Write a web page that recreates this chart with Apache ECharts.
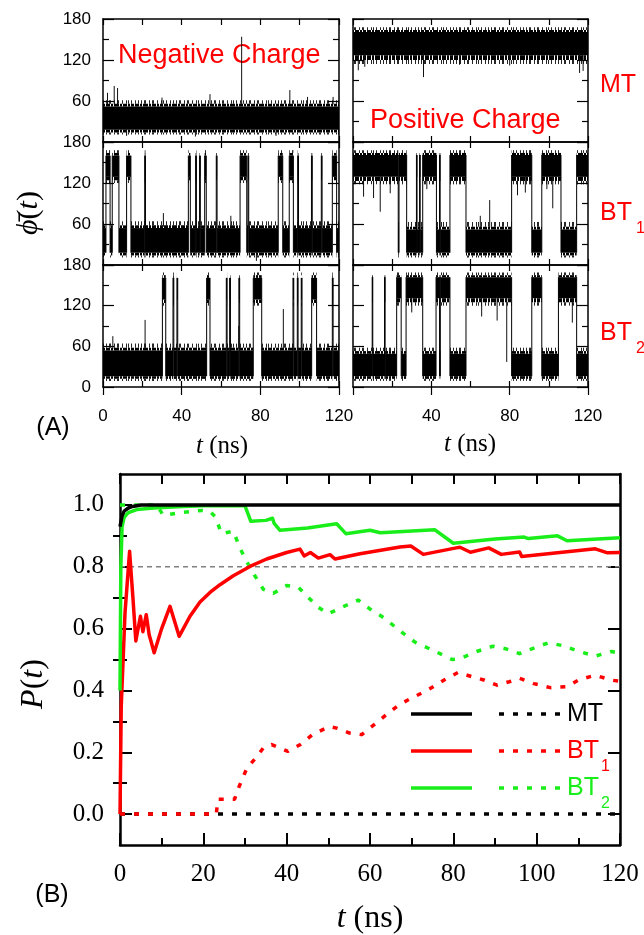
<!DOCTYPE html>
<html><head><meta charset="utf-8">
<script src="https://cdn.jsdelivr.net/npm/echarts@6/dist/echarts.min.js"></script>
<style>html,body{margin:0;padding:0;background:#fff}#c{width:644px;height:935px}</style>
</head><body><div id="c"></div>
<script>
// ================= DATA =================
// Panel (A): phi-bar(t) traces as state segments [tStart, tEnd, state] (0 = low band, 1 = high band), t in ns
const negMT_segments = [[0,120,0]];
const posMT_segments = [[0,120,1]];
const negBT1_segments = [[0,1.5,0],[1.5,3.6,1],[3.6,4.7,0],[4.7,8.1,1],[8.1,12.0,0],[12.0,14.2,1],[14.2,21.2,0],[21.2,21.6,1],[21.6,43.4,0],[43.4,44.4,1],[44.4,47.1,0],[47.1,47.5,1],[47.5,49.1,0],[49.1,49.5,1],[49.5,51.7,0],[51.7,52.5,1],[52.5,57.6,0],[57.6,58.0,1],[58.0,69.7,0],[69.7,73.1,1],[73.1,73.7,0],[73.7,74.1,1],[74.1,89.1,0],[89.1,91.4,1],[91.4,94.7,0],[94.7,96.8,1],[96.8,99.0,0],[99.0,99.4,1],[99.4,106.0,0],[106.0,106.4,1],[106.4,111.0,0],[111.0,111.4,1],[111.4,116.6,0],[116.6,118.8,1],[118.8,120,0]];
const posBT1_segments = [[0,23.1,1],[23.1,23.5,0],[23.5,27.4,1],[27.4,32.4,0],[32.4,32.7,1],[32.7,34.0,0],[34.0,34.3,1],[34.3,35.6,0],[35.6,42.6,1],[42.6,44.2,0],[44.2,44.5,1],[44.5,49.5,0],[49.5,57.7,1],[57.7,81.0,0],[81.0,91.3,1],[91.3,96.4,0],[96.4,106.2,1],[106.2,114.2,0],[114.2,120,1]];
const negBT2_segments = [[0,30.2,0],[30.2,31.9,1],[31.9,35.6,0],[35.6,36.0,1],[36.0,37.6,0],[37.6,38.0,1],[38.0,52.7,0],[52.7,54.4,1],[54.4,62.7,0],[62.7,63.1,1],[63.1,64.4,0],[64.4,64.8,1],[64.8,69.1,0],[69.1,69.5,1],[69.5,76.4,0],[76.4,80.7,1],[80.7,96.6,0],[96.6,97.0,1],[97.0,98.8,0],[98.8,99.2,1],[99.2,100.8,0],[100.8,101.2,1],[101.2,106.1,0],[106.1,108.6,1],[108.6,116.6,0],[116.6,117.0,1],[117.0,120,0]];
const posBT2_segments = [[0,9.8,0],[9.8,10.1,1],[10.1,16.1,0],[16.1,16.4,1],[16.4,22.3,0],[22.3,24.6,1],[24.6,27.1,0],[27.1,35.6,1],[35.6,42.4,0],[42.4,44.2,1],[44.2,44.6,0],[44.6,49.5,1],[49.5,57.7,0],[57.7,81.0,1],[81.0,91.3,0],[91.3,96.4,1],[96.4,104.9,0],[104.9,114.2,1],[114.2,120,0]];

// band envelopes [outerLow, fringeLow, coreLow, coreHigh, fringeHigh, outerHigh] in degrees
const negMT_low  = [11,14,18,52,56,61], negMT_high  = [116,121,127,161,164,168];
const posMT_low  = [11,14,18,52,56,61], posMT_high  = [114,120,127,161,164,168];
const negBT1_low = [11,14,18,54,58,64], negBT1_high = [120,124,129,160,164,168];
const posBT1_low = [11,14,18,52,56,63], posBT1_high = [118,123,129,161,164,168];
const negBT2_low = [9,12,16,54,58,64],  negBT2_high = [120,124,129,161,165,169];
const posBT2_low = [9,12,16,49,53,58],  posBT2_high = [120,125,131,162,165,169];

// isolated excursions [t, from, to]
const negMT_spikes = [[2.3,55,72],[5.7,55,82],[7.4,55,79],[30,55,65],[54.4,55,70],[70.5,55,154],[95,55,76],[104,55,66],[117,55,66],[12,20,9],[47,20,8],[88,20,9]];
const posMT_spikes = [[2.7,130,105],[6,130,110],[36,130,95],[54.4,130,113],[80,130,112],[115.7,130,101],[117.5,130,104]];
const negBT1_spikes = [[30.7,56,76],[78,20,6],[65,56,72]];
const posBT1_spikes = [[5.4,130,100],[10.5,130,98],[13.9,130,78],[19,130,105],[37.7,130,111],[84,130,102],[88,130,106],[99,130,111],[102,130,83],[69.8,55,95],[65,55,72]];
const negBT2_spikes = [[21.4,56,99],[91.7,56,115],[69,56,90],[5,56,75]];
const posBT2_spikes = [[65.7,132,104],[73.6,132,98],[78.5,132,37],[112,132,95],[30,132,110]];

// Panel (B): P(t) curves [t (ns), P]
const MT_solid  = [[0,0.93],[0.5,0.965],[1,0.98],[2,0.99],[3,0.995],[5,1.0],[120,1.0]];
const MT_dotted = [[0,0],[120,0]];
const BT1_solid = [[0,0],[0.3,0.35],[1.2,0.65],[2.3,0.85],[3.1,0.7],[3.8,0.56],[4.9,0.64],[5.5,0.59],[6.3,0.645],[7.0,0.58],[8.2,0.522],[10,0.6],[12,0.672],[14.2,0.575],[16.8,0.64],[19.2,0.686],[21.6,0.717],[24,0.742],[27.2,0.771],[31.2,0.801],[35.2,0.825],[40,0.846],[43.2,0.857],[44.2,0.835],[45.7,0.846],[47.6,0.828],[50.4,0.839],[51.6,0.825],[57.6,0.842],[58,0.837],[67.2,0.864],[69.8,0.867],[72.8,0.84],[80.7,0.861],[81.6,0.863],[84.1,0.847],[88.5,0.861],[91.5,0.84],[95.9,0.848],[96.4,0.833],[103.3,0.843],[114.1,0.858],[117,0.845],[120,0.846]];
const BT1_dotted = [[0,0],[23.1,0],[23.5,0.048],[27.5,0.048],[28.5,0.086],[30.5,0.15],[32.5,0.18],[34.4,0.214],[36.4,0.225],[40.3,0.203],[43.3,0.225],[46.2,0.257],[50.2,0.283],[52,0.278],[55.1,0.262],[58,0.257],[61,0.289],[63.9,0.321],[66.9,0.353],[69.8,0.374],[73.8,0.401],[77.7,0.433],[81.1,0.458],[84.6,0.444],[87.5,0.433],[90.5,0.417],[93.4,0.428],[95.9,0.439],[99.3,0.422],[103.3,0.409],[107.2,0.412],[110.2,0.435],[114.1,0.449],[118,0.433],[120,0.43]];
const BT2_solid = [[0,0.4],[0.2,0.8],[0.5,0.93],[1,0.96],[2,0.975],[4,0.985],[8,0.99],[15,0.995],[20,0.997],[30,0.997],[31.4,0.947],[35,0.95],[36.6,0.957],[37,0.94],[38.4,0.918],[45,0.925],[52,0.939],[54.2,0.907],[60,0.918],[62.5,0.91],[75.5,0.92],[80,0.876],[90,0.89],[97,0.896],[98,0.891],[105,0.9],[107.3,0.884],[120,0.894]];
const BT2_dotted = [[0,1.0],[8.8,1.0],[10.4,0.966],[14.4,0.975],[19.6,0.982],[21.5,0.98],[22.8,0.963],[24.4,0.907],[27.2,0.915],[28.8,0.86],[30.4,0.817],[32.4,0.77],[34.4,0.727],[36.8,0.714],[40,0.739],[42.8,0.734],[44.8,0.706],[47.6,0.669],[50,0.648],[53.6,0.671],[57.2,0.692],[60.4,0.659],[63.6,0.633],[66.4,0.601],[70.8,0.556],[75.7,0.526],[79.7,0.5],[81.6,0.503],[85.6,0.526],[89.5,0.543],[92.5,0.535],[95.9,0.519],[99.3,0.537],[102.8,0.554],[106.2,0.545],[110.2,0.526],[114.1,0.511],[118,0.526],[120,0.52]];
const refLevel = 0.8;

const yMajorB = [0,0.2,0.4,0.6,0.8,1.0];
const yMinorB = [0.1,0.3,0.5,0.7,0.9];

// ================= CHART =================
const SANS = '"Liberation Sans", Arial, sans-serif';
const SERIF = '"Liberation Serif", "Times New Roman", serif';
const RED = '#ff0000', GREEN = '#1aee1a', BLACK = '#000';

// hatch textures for the noisy fringes of the traces (style only)
function hatch(cols, w, alpha) {
  const c = document.createElement('canvas'); c.width = w; c.height = 4;
  const ctx = c.getContext('2d'); ctx.fillStyle = 'rgba(0,0,0,' + alpha + ')';
  cols.forEach(x => ctx.fillRect(x, 0, 1, 4));
  return {image: c, repeat: 'repeat'};
}
const hatchDense = hatch([0,1,2,4,5,7,8,9,10,12,13,15,16,17,19,20,21,22,24,25,27,28], 29, 1);
const hatchSparse = hatch([1,4,5,9,12,13,17,21,23,26,30,33], 35, 0.85);

const grids = [], xAxes = [], yAxes = [], series = [];
const colLeft = [103, 353], colW = [236, 235];
const rowTop = [19, 142, 265], rowH = [123, 123, 122];

const panels = [
  [negMT_segments, negMT_low, negMT_high, negMT_spikes],
  [posMT_segments, posMT_low, posMT_high, posMT_spikes],
  [negBT1_segments, negBT1_low, negBT1_high, negBT1_spikes],
  [posBT1_segments, posBT1_low, posBT1_high, posBT1_spikes],
  [negBT2_segments, negBT2_low, negBT2_high, negBT2_spikes],
  [posBT2_segments, posBT2_low, posBT2_high, posBT2_spikes]
];

const lineA = {show:true, onZero:false, lineStyle:{color:BLACK, width:1.5}};
panels.forEach((p, gi) => {
  const col = gi % 2, row = Math.floor(gi / 2);
  grids.push({left:colLeft[col], top:rowTop[row], width:colW[col], height:rowH[row], outerBoundsMode:'none', containLabel:false});
  const xi = xAxes.length;
  xAxes.push({type:'value', gridIndex:gi, position:'bottom', min:0, max:120, interval:20,
    axisLine:lineA, splitLine:{show:false},
    axisTick:{show:true, inside:true, length:6, lineStyle:{color:BLACK, width:1.2}},
    axisLabel:{show: row===2, formatter: v => (v % 40 === 0 ? String(v) : ''), showMinLabel: col===0, showMaxLabel:true,
      color:BLACK, fontFamily:SANS, fontSize:17, margin:21}});
  xAxes.push({type:'value', gridIndex:gi, position:'top', min:0, max:120, interval:20,
    axisLine:lineA, splitLine:{show:false},
    axisTick:{show:true, inside:true, length:6, lineStyle:{color:BLACK, width:1.2}}, axisLabel:{show:false}});
  if (row === 2) {
    xAxes.push({type:'value', gridIndex:gi, position:'bottom', min:0, max:120, interval:40,
      axisLine:{show:false}, splitLine:{show:false},
      axisTick:{show:true, inside:false, length:8, lineStyle:{color:BLACK, width:1.2}}, axisLabel:{show:false}});
  }
  const yi = yAxes.length;
  const yCommon = {type:'value', gridIndex:gi, min:0, max:180, interval:60, axisLine:lineA, splitLine:{show:false},
    axisTick:{show:true, inside:true, length:11, lineStyle:{color:BLACK, width:1.2}},
    minorTick:{show:true, splitNumber:2, length:6, lineStyle:{color:BLACK, width:1.2}}};
  yAxes.push(Object.assign({}, yCommon, {position:'left',
    axisLabel:{show: col===0, showMinLabel: row===2, showMaxLabel:true, color:BLACK, fontFamily:SANS, fontSize:17, margin:12}}));
  yAxes.push(Object.assign({}, yCommon, {position:'right', axisLabel:{show:false}}));

  const segs = p[0], low = p[1], high = p[2], spikes = p[3];
  const data = segs.map((s, i) => [s[0], s[1], s[2], (i > 0 && segs[i-1][2] !== s[2]) ? 1 : 0]);
  series.push({type:'custom', xAxisIndex:xi, yAxisIndex:yi, clip:true, silent:true, animation:false, data,
    renderItem: (params, api) => {
      const t0 = api.value(0), t1 = api.value(1), st = api.value(2), tr = api.value(3);
      const b = st ? high : low;
      const a0 = api.coord([t0, b[0]]), a1 = api.coord([t1, b[0]]);
      const ys = b.map(v => api.coord([t0, v])[1]);
      const x0 = a0[0], w = Math.max(a1[0] - a0[0], 0.8);
      const rect = (yTop, yBot, fill) => ({type:'rect', shape:{x:x0, y:yTop, width:w, height:yBot - yTop}, style:{fill}});
      const ch = [
        rect(ys[5], ys[4], hatchSparse), rect(ys[1], ys[0], hatchSparse),
        rect(ys[4], ys[3], hatchDense), rect(ys[2], ys[1], hatchDense),
        rect(ys[3], ys[2], '#000')
      ];
      if (tr) {
        const ylo = api.coord([t0, low[2]])[1], yhi = api.coord([t0, high[3]])[1];
        ch.push({type:'line', shape:{x1:x0, y1:ylo, x2:x0, y2:yhi}, style:{stroke:'#000', lineWidth:1}});
      }
      return {type:'group', children:ch};
    }});
  series.push({type:'custom', xAxisIndex:xi, yAxisIndex:yi, clip:true, silent:true, animation:false, data:spikes,
    renderItem: (params, api) => {
      const p1 = api.coord([api.value(0), api.value(1)]), p2 = api.coord([api.value(0), api.value(2)]);
      return {type:'line', shape:{x1:p1[0], y1:p1[1], x2:p2[0], y2:p2[1]}, style:{stroke:'#111', lineWidth:1}};
    }});
});

// Panel B
const gB = grids.length;
grids.push({left:120, top:474, width:500, height:371, outerBoundsMode:'none', containLabel:false});
const lineB = {show:true, onZero:false, lineStyle:{color:BLACK, width:2.5}};
const xB = xAxes.length;
xAxes.push({type:'value', gridIndex:gB, position:'bottom', min:0, max:120, interval:20, axisLine:lineB, splitLine:{show:false},
  axisTick:{show:true, inside:true, length:12, lineStyle:{color:BLACK, width:2}},
  minorTick:{show:true, splitNumber:2, length:7, lineStyle:{color:BLACK, width:2}},
  axisLabel:{color:BLACK, fontFamily:SERIF, fontSize:25, margin:17, showMinLabel:true, showMaxLabel:true}});
xAxes.push({type:'value', gridIndex:gB, position:'top', min:0, max:120, interval:20, axisLine:lineB, splitLine:{show:false},
  axisTick:{show:true, inside:true, length:10, lineStyle:{color:BLACK, width:2}},
  minorTick:{show:true, splitNumber:2, length:10, lineStyle:{color:BLACK, width:2}}, axisLabel:{show:false}});
const yB = yAxes.length;
const yBcommon = {type:'value', gridIndex:gB, min:-0.1, max:1.1, interval:0.1, axisLine:lineB, splitLine:{show:false}};
yAxes.push(Object.assign({}, yBcommon, {position:'left',
  axisTick:{show:true, inside:true, length:12, customValues:yMajorB, lineStyle:{color:BLACK, width:2}},
  axisLabel:{color:BLACK, fontFamily:SERIF, fontSize:25, margin:16, customValues:yMajorB, formatter: v => v.toFixed(1)}}));
yAxes.push(Object.assign({}, yBcommon, {position:'right',
  axisTick:{show:true, inside:true, length:12, customValues:yMajorB, lineStyle:{color:BLACK, width:2}}, axisLabel:{show:false}}));
yAxes.push(Object.assign({}, yBcommon, {position:'left', axisLine:{show:false},
  axisTick:{show:true, inside:true, length:7, customValues:yMinorB, lineStyle:{color:BLACK, width:2}}, axisLabel:{show:false}}));
yAxes.push(Object.assign({}, yBcommon, {position:'right', axisLine:{show:false},
  axisTick:{show:true, inside:true, length:7, customValues:yMinorB, lineStyle:{color:BLACK, width:2}}, axisLabel:{show:false}}));

const DOT = [5, 9];
function lineS(name, data, color, type, width) {
  return {type:'line', name, xAxisIndex:xB, yAxisIndex:yB, data, showSymbol:false, symbol:'none', smooth:false,
    animation:false, silent:true, clip:true, lineStyle:{color, width, type, cap:'butt', join:'round'}};
}
series.push(lineS('ref', [[0, refLevel], [120, refLevel]], '#808080', [5, 4], 1.5));
series.push(lineS('MT dotted', MT_dotted, BLACK, DOT, 3.5));
series.push(lineS('BT1 dotted', BT1_dotted, RED, DOT, 3.5));
series.push(lineS('BT2 dotted', BT2_dotted, GREEN, DOT, 3.5));
series.push(lineS('BT1 solid', BT1_solid, RED, 'solid', 3.5));
series.push(lineS('BT2 solid', BT2_solid, GREEN, 'solid', 3.5));
series.push(lineS('MT solid', MT_solid, BLACK, 'solid', 3.5));

// ---- texts and legend
function txt(x, y, text, font, color, align) {
  return {type:'text', x, y, silent:true, style:{text, font, fill:color || BLACK, align: align || 'left', verticalAlign:'middle'}};
}
function richTxt(x, y, text, size, rot) {
  return {type:'text', x, y, rotation: rot || 0, silent:true, style:{text, align:'center', verticalAlign:'middle', fill:BLACK,
    rich:{i:{font:'italic ' + size + 'px ' + SERIF, fill:BLACK}, n:{font:size + 'px ' + SERIF, fill:BLACK}}}};
}
const legendRows = [['MT', '', BLACK, 714], ['BT', '1', RED, 751], ['BT', '2', GREEN, 788]];
const graphic = [
  txt(118, 56, 'Negative Charge', '27px ' + SANS, RED),
  txt(370, 121, 'Positive Charge', '27px ' + SANS, RED),
  txt(600, 85, 'MT', '25px ' + SANS, RED),
  txt(600, 213, 'BT', '25px ' + SANS, RED), txt(636, 229, '1', '16px ' + SANS, RED),
  txt(600, 333, 'BT', '25px ' + SANS, RED), txt(636, 349, '2', '16px ' + SANS, RED),
  txt(53, 428, '(A)', '25px ' + SANS, BLACK, 'center'),
  txt(52, 895, '(B)', '25px ' + SANS, BLACK, 'center'),
  richTxt(29, 213, '{i|\u03D5\u0304}{n|(}{i|t}{n|)}', 30, Math.PI/2),
  richTxt(34, 684, '{i|P}{n|(}{i|t}{n|)}', 32, Math.PI/2),
  richTxt(222, 446, '{i|t}{n|\u00A0(ns)}', 25),
  richTxt(470, 444, '{i|t}{n|\u00A0(ns)}', 25),
  richTxt(370, 919, '{i|t}{n|\u00A0(ns)}', 32)
];
legendRows.forEach(r => {
  graphic.push({type:'line', silent:true, shape:{x1:411, y1:r[3], x2:472, y2:r[3]}, style:{stroke:r[2], lineWidth:3.5}});
  graphic.push({type:'line', silent:true, shape:{x1:499, y1:r[3], x2:563, y2:r[3]}, style:{stroke:r[2], lineWidth:3.5, lineDash:DOT}});
  graphic.push(txt(567, r[3], r[0], '25px ' + SANS, r[2]));
  if (r[1]) graphic.push(txt(601, r[3] + 16, r[1], '16px ' + SANS, r[2]));
});

const chart = echarts.init(document.getElementById('c'), null, {renderer:'canvas'});
chart.setOption({animation:false, backgroundColor:'#fff', grid:grids, xAxis:xAxes, yAxis:yAxes, series, graphic});
</script></body></html>
